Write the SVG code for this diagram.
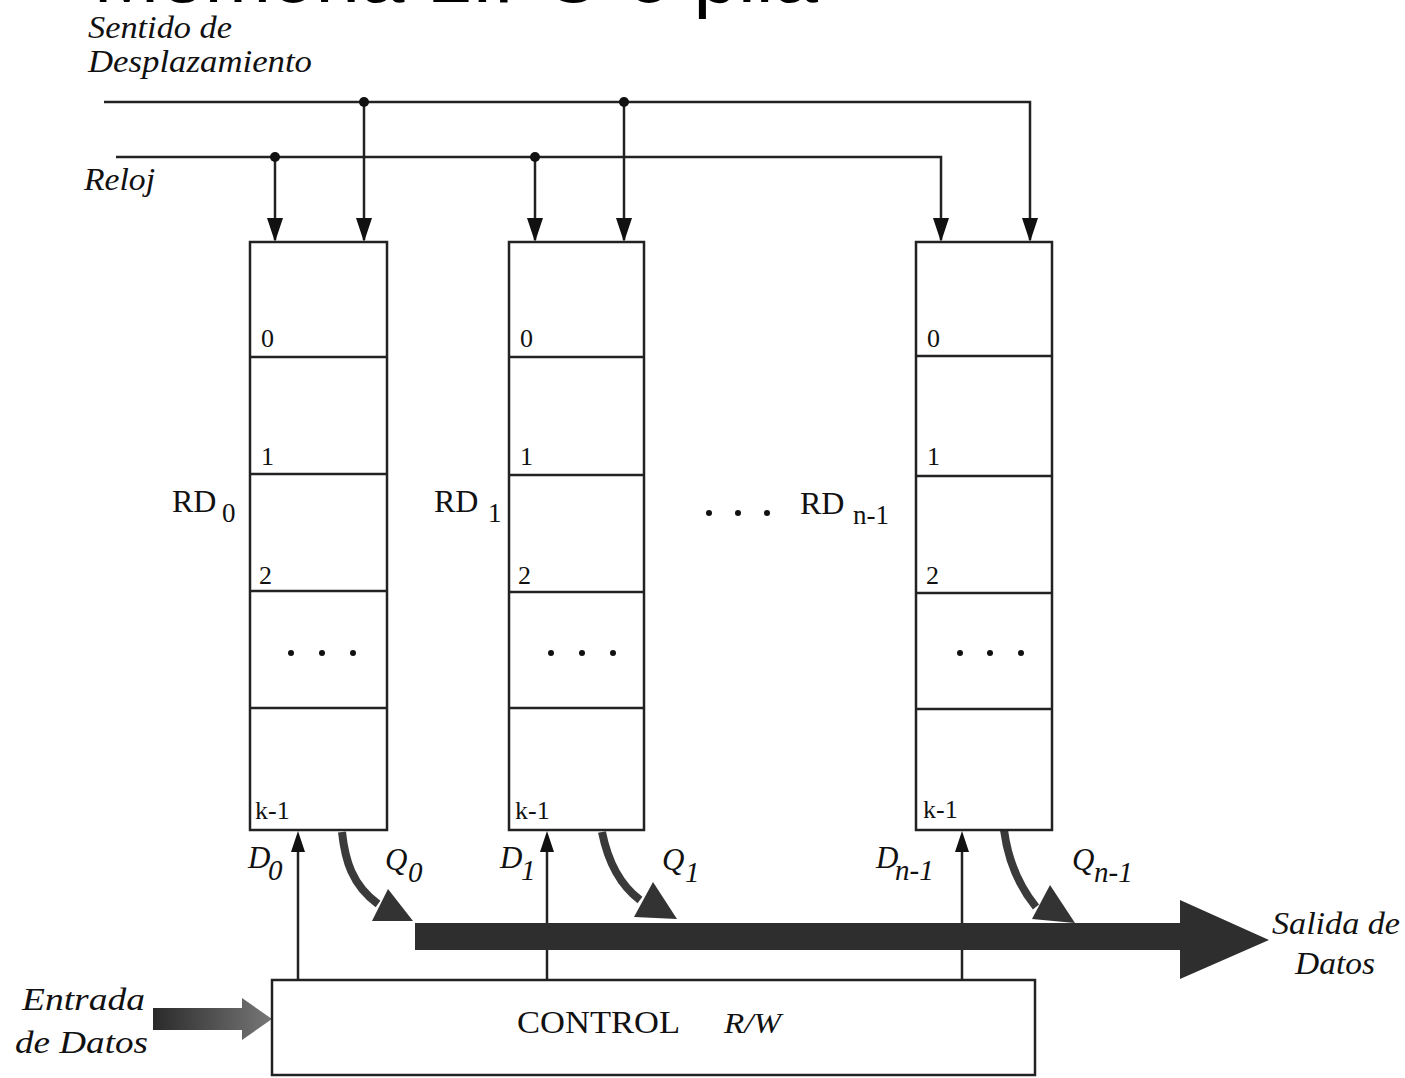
<svg xmlns="http://www.w3.org/2000/svg" width="1405" height="1078" viewBox="0 0 1405 1078">
<defs>
<style>
.ln{stroke:#222;stroke-width:2.5;fill:none}
.box{stroke:#222;stroke-width:2.5;fill:#fff}
.it{font-family:"Liberation Serif",serif;font-style:italic;fill:#111}
.rm{font-family:"Liberation Serif",serif;fill:#111}
.num{font-family:"Liberation Serif",serif;font-size:26px;fill:#111}
.dot{fill:#111}
.bus{fill:#2e2e2e}
.qc{stroke:#3a3a3a;stroke-width:8;fill:none}
</style>
<linearGradient id="ing" x1="0" x2="1" y1="0" y2="0">
<stop offset="0" stop-color="#2a2a2a"/>
<stop offset="1" stop-color="#777"/>
</linearGradient>
</defs>
<rect width="1405" height="1078" fill="#fff"/>

<text x="818" y="2" text-anchor="end" font-family="Liberation Sans, sans-serif" font-size="80" fill="#000">Memoria LIFO o pila</text>

<text class="it" x="88" y="38" font-size="31" textLength="144" lengthAdjust="spacingAndGlyphs">Sentido de</text>
<text class="it" x="88" y="72" font-size="31" textLength="224" lengthAdjust="spacingAndGlyphs">Desplazamiento</text>
<text class="it" x="84" y="190" font-size="31" textLength="71" lengthAdjust="spacingAndGlyphs">Reloj</text>

<g id="connectors">
<path class="ln" d="M104,102 H1030 V240"/>
<path class="ln" d="M116,157 H941 V240"/>
<path class="ln" d="M275,157 V240"/>
<path class="ln" d="M364,102 V240"/>
<path class="ln" d="M535,157 V240"/>
<path class="ln" d="M624,102 V240"/>
<polygon class="dot" points="267,218 283,218 275,242"/>
<polygon class="dot" points="356,218 372,218 364,242"/>
<polygon class="dot" points="527,218 543,218 535,242"/>
<polygon class="dot" points="616,218 632,218 624,242"/>
<polygon class="dot" points="933,218 949,218 941,242"/>
<polygon class="dot" points="1022,218 1038,218 1030,242"/>
<circle class="dot" cx="275" cy="157" r="5"/>
<circle class="dot" cx="364" cy="102" r="5"/>
<circle class="dot" cx="535" cy="157" r="5"/>
<circle class="dot" cx="624" cy="102" r="5"/>

<path class="ln" d="M298,980 V850"/>
<path class="ln" d="M547,980 V850"/>
<path class="ln" d="M962,980 V850"/>
<polygon class="dot" points="291,852 305,852 298,831"/>
<polygon class="dot" points="540,852 554,852 547,831"/>
<polygon class="dot" points="955,852 969,852 962,831"/>

<path class="qc" d="M342,832 C345,860 352,885 378,904"/>
<polygon fill="#333" points="372,921 388,889 413,921"/>
<path class="qc" d="M602,832 C608,862 620,885 640,900"/>
<polygon fill="#333" points="634,917 653,882 677,919"/>
<path class="qc" d="M1004,830 C1008,860 1018,885 1036,907"/>
<polygon fill="#333" points="1032,919 1050,885 1075,923"/>

<polygon class="bus" points="415,923 1180,923 1180,900 1269,940 1180,979 1180,950 415,950"/>

<polygon fill="url(#ing)" points="153,1008 242,1008 242,998 272,1019 242,1040 242,1030 153,1030"/>
</g>

<g id="rd0">
<rect class="box" x="250" y="242" width="137" height="588"/>
<line class="ln" x1="250" y1="357" x2="387" y2="357"/>
<line class="ln" x1="250" y1="474" x2="387" y2="474"/>
<line class="ln" x1="250" y1="591" x2="387" y2="591"/>
<line class="ln" x1="250" y1="708" x2="387" y2="708"/>
<text class="num" x="261" y="347">0</text>
<text class="num" x="261" y="465">1</text>
<text class="num" x="259" y="584">2</text>
<text class="num" x="255" y="819">k-1</text>
<circle class="dot" cx="291" cy="653" r="3"/><circle class="dot" cx="322" cy="653" r="3"/><circle class="dot" cx="353" cy="653" r="3"/>
<text class="rm" x="172" y="512" font-size="32">RD</text>
<text class="rm" x="222" y="522" font-size="27">0</text>
</g>

<g id="rd1">
<rect class="box" x="509" y="242" width="135" height="588"/>
<line class="ln" x1="509" y1="357" x2="644" y2="357"/>
<line class="ln" x1="509" y1="475" x2="644" y2="475"/>
<line class="ln" x1="509" y1="592" x2="644" y2="592"/>
<line class="ln" x1="509" y1="708" x2="644" y2="708"/>
<text class="num" x="520" y="347">0</text>
<text class="num" x="520" y="465">1</text>
<text class="num" x="518" y="584">2</text>
<text class="num" x="515" y="819">k-1</text>
<circle class="dot" cx="551" cy="653" r="3"/><circle class="dot" cx="582" cy="653" r="3"/><circle class="dot" cx="613" cy="653" r="3"/>
<text class="rm" x="434" y="512" font-size="32">RD</text>
<text class="rm" x="488" y="522" font-size="27">1</text>
</g>

<g id="rdn1">
<rect class="box" x="916" y="242" width="136" height="588"/>
<line class="ln" x1="916" y1="356" x2="1052" y2="356"/>
<line class="ln" x1="916" y1="476" x2="1052" y2="476"/>
<line class="ln" x1="916" y1="593" x2="1052" y2="593"/>
<line class="ln" x1="916" y1="709" x2="1052" y2="709"/>
<text class="num" x="927" y="347">0</text>
<text class="num" x="927" y="465">1</text>
<text class="num" x="926" y="584">2</text>
<text class="num" x="923" y="818">k-1</text>
<circle class="dot" cx="960" cy="653" r="3"/><circle class="dot" cx="990" cy="653" r="3"/><circle class="dot" cx="1021" cy="653" r="3"/>
<circle class="dot" cx="709" cy="513" r="3"/><circle class="dot" cx="738" cy="513" r="3"/><circle class="dot" cx="767" cy="513" r="3"/>
<text class="rm" x="800" y="514" font-size="32">RD</text>
<text class="rm" x="853" y="524" font-size="27">n-1</text>
</g>

<g id="labels">
<text class="it" x="248" y="868" font-size="31">D</text><text class="it" x="268" y="880" font-size="29">0</text>
<text class="it" x="500" y="868" font-size="31">D</text><text class="it" x="521" y="880" font-size="29">1</text>
<text class="it" x="876" y="868" font-size="31">D</text><text class="it" x="895" y="880" font-size="29">n-1</text>
<text class="it" x="385" y="870" font-size="31">Q</text><text class="it" x="408" y="882" font-size="29">0</text>
<text class="it" x="662" y="870" font-size="31">Q</text><text class="it" x="685" y="882" font-size="29">1</text>
<text class="it" x="1072" y="870" font-size="31">Q</text><text class="it" x="1094" y="882" font-size="29">n-1</text>
<text class="it" x="1272" y="934" font-size="31" textLength="128" lengthAdjust="spacingAndGlyphs">Salida de</text>
<text class="it" x="1295" y="974" font-size="31" textLength="80" lengthAdjust="spacingAndGlyphs">Datos</text>
<text class="it" x="22" y="1010" font-size="31" textLength="123" lengthAdjust="spacingAndGlyphs">Entrada</text>
<text class="it" x="15" y="1053" font-size="31" textLength="133" lengthAdjust="spacingAndGlyphs">de Datos</text>
</g>

<g id="control">
<rect class="box" x="272" y="980" width="763" height="95"/>
<text class="rm" x="517" y="1033" font-size="31" textLength="163" lengthAdjust="spacingAndGlyphs">CONTROL</text>
<text class="it" x="724" y="1033" font-size="29" textLength="57" lengthAdjust="spacingAndGlyphs">R/W</text>
</g>
</svg>
